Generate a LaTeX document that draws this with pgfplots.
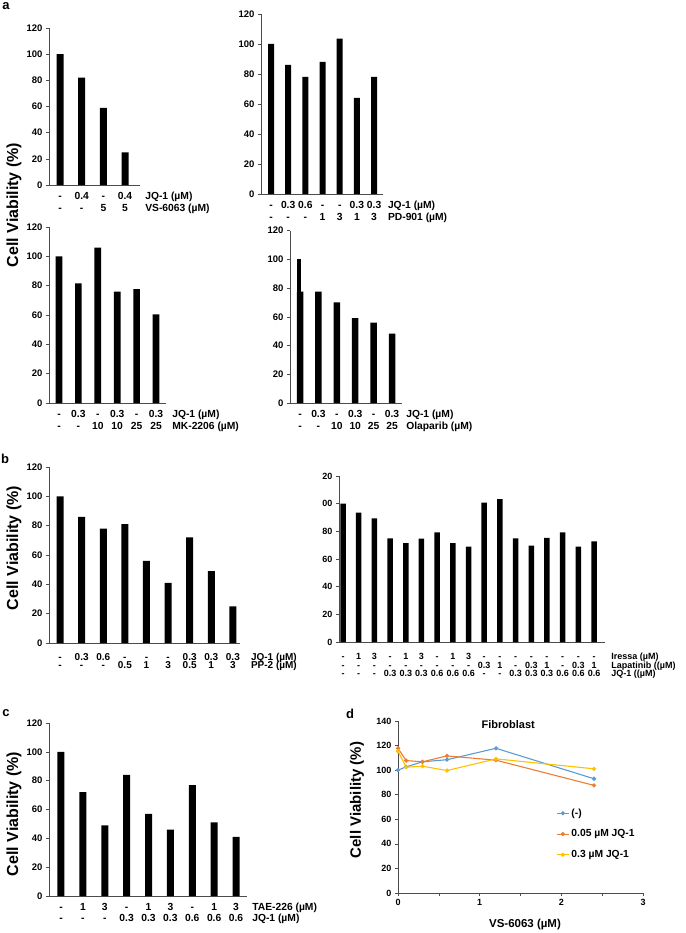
\documentclass[border=0pt]{standalone}
\usepackage{fontspec}
\setmainfont{Liberation Sans}
\usepackage{pgfplots}
\pgfplotsset{compat=1.18}

\definecolor{xlblue}{HTML}{5B9BD5}
\definecolor{xlorange}{HTML}{ED7D31}
\definecolor{xlyellow}{HTML}{FFC000}

% fixed-height strut so every row of the tick labels lines up
\def\st{\vrule height 8.4pt depth 0pt width 0pt}
\protected\def\two#1#2{\st#1\\\st#2}
\protected\def\three#1#2#3{\st#1\\\st#2\\\st#3}

\pgfplotsset{
  panel/.style={
    scale only axis, anchor=south west,
    axis x line=bottom, axis y line=left,
    axis line style={-, black!70, line width=0.8pt},
    ymin=0, ymax=120, ytick={0,20,...,120},
    tick align=outside, major tick length=3pt,
    xtick style={draw=none},
    ytick style={black!70, line width=0.6pt},
    /pgf/number format/assume math mode=true,
    ticklabel style={font=\bfseries\fontsize{9.5}{12}\selectfont},
    xticklabel style={align=center, font=\bfseries\fontsize{10.3}{12}\selectfont},
    ybar, clip=false,
  },
  rows/.style n args={2}{extra x ticks={#1},
    extra x tick style={xticklabel style={anchor=north west, align=left, xshift=#2}}},
}

\begin{document}
\lineskiplimit=-\maxdimen
\begin{tikzpicture}
\path[use as bounding box] (0,0) rectangle (685pt,-933pt);

% ---- a, top left
\begin{axis}[panel, at={(49pt,-185pt)}, width=91pt, height=157pt,
  xmin=0.492, xmax=4.69, bar width=7pt, xtick={1,...,4},
  xticklabels={{\two{-}{-}},{\two{0.4}{-}},{\two{-}{5}},{\two{0.4}{5}}},
  rows={4.689}{1.8pt},
  extra x tick labels={{\two{JQ-1 (µM)}{VS-6063 (µM)}}}]
\addplot[fill=black, draw=none] coordinates {(1,100) (2,82) (3,59) (4,25)};
\end{axis}

% ---- a, top right
\begin{axis}[panel, at={(261pt,-194pt)}, width=122pt, height=180pt,
  xmin=0.418, xmax=7.52, bar width=6pt, xtick={1,...,7},
  xticklabels={{\two{-}{-}},{\two{0.3}{-}},{\two{0.6}{-}},{\two{-}{1}},{\two{-}{3}},{\two{0.3}{1}},{\two{0.3}{3}}},
  rows={7.519}{1.5pt},
  extra x tick labels={{\two{JQ-1 (µM)}{PD-901 (µM)}}}]
\addplot[fill=black, draw=none] coordinates {(1,100) (2,86) (3,78) (4,88) (5,103.5) (6,64) (7,78)};
\end{axis}

% ---- a, bottom left
\begin{axis}[panel, at={(49pt,-403pt)}, width=117pt, height=176pt,
  xmin=0.485, xmax=6.515, bar width=6.7pt, xtick={1,...,6},
  xticklabels={{\two{-}{-}},{\two{0.3}{-}},{\two{-}{10}},{\two{0.3}{10}},{\two{-}{25}},{\two{0.3}{25}}},
  rows={6.514}{2.8pt},
  extra x tick labels={{\two{JQ-1 (µM)}{MK-2206 (µM)}}}]
\addplot[fill=black, draw=none] coordinates {(1,100) (2,81.5) (3,106) (4,76) (5,77.7) (6,60.5)};
\end{axis}

% ---- a, bottom right
\begin{axis}[panel, at={(290pt,-403pt)}, width=112pt, height=172.4pt,
  xmin=0.457, xmax=6.54, bar width=6.5pt, xtick={1,...,6},
  xticklabels={{\two{-}{-}},{\two{0.3}{-}},{\two{-}{10}},{\two{0.3}{10}},{\two{-}{25}},{\two{0.3}{25}}},
  rows={6.539}{0.8pt},
  extra x tick labels={{\two{JQ-1 (µM)}{Olaparib (µM)}}}]
\addplot[fill=black, draw=none, bar shift=0pt] coordinates {(1,77.5) (2,77.5) (3,70) (4,59) (5,56) (6,48.3)};
\addplot[fill=black, draw=none, bar width=4.4pt, bar shift=-1pt] coordinates {(1,100)};
\end{axis}

% ---- b, left
\begin{axis}[panel, at={(49pt,-643pt)}, width=191pt, height=176pt,
  xmin=0.488, xmax=9.33, bar width=7pt, xtick={1,...,9},
  xticklabel style={yshift=-2.4pt, font=\bfseries\fontsize{10}{8.5}\selectfont},
  xticklabels={{\two{-}{-}},{\two{0.3}{-}},{\two{0.6}{-}},{\two{-}{0.5}},{\two{-}{1}},{\two{-}{3}},{\two{0.3}{0.5}},{\two{0.3}{1}},{\two{0.3}{3}}},
  rows={9.329}{7.5pt},
  extra x tick labels={{\two{JQ-1 (µM)}{PP-2 (µM)}}}]
\addplot[fill=black, draw=none] coordinates {(1,100) (2,86) (3,78) (4,81) (5,56) (6,41) (7,72) (8,49) (9,25)};
\end{axis}

% ---- b, right
\begin{axis}[panel, at={(339pt,-642pt)}, width=266pt, height=166pt,
  xmin=0.745, xmax=17.7, bar width=5.5pt, xtick={1,...,17},
  yticklabels={0,20,40,60,80,00,20},
  ticklabel style={font=\bfseries\fontsize{9}{8.3}\selectfont},
  xticklabel style={yshift=-3pt, font=\bfseries\fontsize{9}{8.3}\selectfont},
  xticklabels={{\three{-}{-}{-}},{\three{1}{-}{-}},{\three{3}{-}{-}},
    {\three{-}{-}{0.3}},{\three{1}{-}{0.3}},{\three{3}{-}{0.3}},
    {\three{-}{-}{0.6}},{\three{1}{-}{0.6}},{\three{3}{-}{0.6}},
    {\three{-}{0.3}{-}},{\three{-}{1}{-}},
    {\three{-}{-}{0.3}},{\three{-}{0.3}{0.3}},{\three{-}{1}{0.3}},
    {\three{-}{-}{0.6}},{\three{-}{0.3}{0.6}},{\three{-}{1}{0.6}}},
  rows={17.699}{2.8pt},
  extra x tick labels={{\three{Iressa (µM)}{Lapatinib ((µM)}{JQ-1 ((µM)}}}]
\addplot[fill=black, draw=none] coordinates {(1,100) (2,93.5) (3,89.4) (4,75) (5,71.4) (6,74.7)
  (7,79.3) (8,71.4) (9,68.9) (10,100.7) (11,103.2) (12,75) (13,69.6) (14,75.2) (15,79.3) (16,68.9) (17,72.8)};
\end{axis}

% ---- c
\begin{axis}[panel, at={(49pt,-896pt)}, width=198pt, height=173pt,
  xmin=0.452, xmax=9.5, bar width=7pt, xtick={1,...,9},
  xticklabel style={font=\bfseries\fontsize{10.3}{10.7}\selectfont},
  xticklabels={{\two{-}{-}},{\two{1}{-}},{\two{3}{-}},{\two{-}{0.3}},{\two{1}{0.3}},{\two{3}{0.3}},{\two{-}{0.6}},{\two{1}{0.6}},{\two{3}{0.6}}},
  rows={9.499}{1.8pt},
  extra x tick labels={{\two{TAE-226 (µM)}{JQ-1 (µM)}}}]
\addplot[fill=black, draw=none] coordinates {(1,100) (2,72) (3,49) (4,84) (5,57) (6,46) (7,77) (8,51) (9,41)};
\end{axis}

% ---- d
\begin{axis}[scale only axis, anchor=south west, at={(398pt,-893pt)}, width=245pt, height=172pt,
  axis x line=bottom, axis y line=left, axis line style={-, black!70, line width=0.8pt},
  xmin=0, xmax=3, ymin=0, ymax=140, xtick={0,1,2,3}, minor xtick={0.5,1.5,2.5}, ytick={0,20,...,140},
  tick align=outside, major tick length=3pt, minor tick length=3pt,
  tick style={black!70, line width=0.6pt},
  /pgf/number format/assume math mode=true,
  ticklabel style={font=\bfseries\fontsize{9}{11}\selectfont},
  legend style={draw=none, fill=none, at={(axis cs:1.9,72)}, anchor=north west,
    font=\bfseries\fontsize{10.3}{12}\selectfont, row sep=8pt},
  legend cell align=left,
  legend image code/.code={\draw[mark repeat=2,mark phase=2,#1] plot coordinates {(0pt,0pt) (6pt,0pt) (12pt,0pt)};},
  clip=false]
\addplot[xlblue, line width=1.1pt, mark=*, mark size=1.5pt] coordinates {(0,100) (0.1,102.7) (0.3,106.8) (0.6,108.5) (1.2,117.8) (2.4,93)};
\addlegendentry{(-)}
\addplot[xlorange, line width=1.1pt, mark=*, mark size=1.5pt] coordinates {(0,117.8) (0.1,107.8) (0.3,106.8) (0.6,111.6) (1.2,108.1) (2.4,87.6)};
\addlegendentry{0.05 µM JQ-1}
\addplot[xlyellow, line width=1.1pt, mark=*, mark size=1.5pt] coordinates {(0,115.4) (0.1,102.4) (0.3,103.2) (0.6,99.7) (1.2,109.2) (2.4,101.1)};
\addlegendentry{0.3 µM JQ-1}
\node[font=\bfseries\fontsize{11}{13}\selectfont] at (axis cs:1.35,137.5) {Fibroblast};
\end{axis}

% ---- labels
\begin{scope}[every node/.style={font=\bfseries\fontsize{16}{16}\selectfont, rotate=90}]
\node at (14pt,-205pt) {Cell Viability (\%)};
\node at (14pt,-548pt) {Cell Viability (\%)};
\node at (14pt,-814pt) {Cell Viability (\%)};
\node[font=\bfseries\fontsize{15}{15}\selectfont] at (357pt,-800pt) {Cell Viability (\%)};
\end{scope}
\node[font=\bfseries\fontsize{11.5}{13}\selectfont] at (525pt,-925pt) {VS-6063 (µM)};
\begin{scope}[every node/.style={font=\bfseries\fontsize{13}{13}\selectfont}]
\node at (6pt,-6pt) {a};
\node at (5pt,-459pt) {b};
\node at (6pt,-713pt) {c};
\node at (350pt,-714pt) {d};
\end{scope}
\end{tikzpicture}
\end{document}
